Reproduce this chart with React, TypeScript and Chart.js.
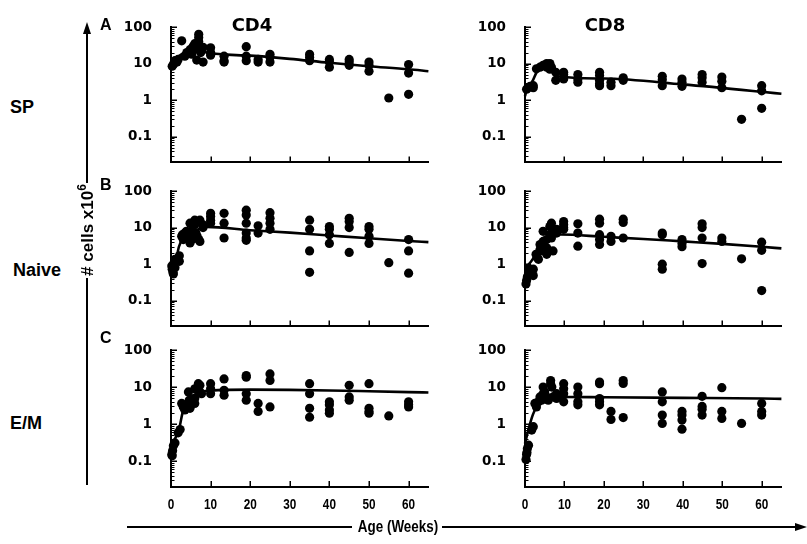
import { useEffect, useRef } from "react";
import { Chart, registerables } from "chart.js";

Chart.register(...registerables);

// ---------- axis ticks ----------
const weekTicks = [0, 10, 20, 30, 40, 50, 60];
const cellTicks = [0.1, 1, 10, 100];
const minorCellTicks = [
  0.02, 0.03, 0.04, 0.05, 0.06, 0.07, 0.08, 0.09,
  0.2, 0.3, 0.4, 0.5, 0.6, 0.7, 0.8, 0.9,
  2, 3, 4, 5, 6, 7, 8, 9,
  20, 30, 40, 50, 60, 70, 80, 90,
];

// ---------- A: SP ----------
const spCd4Weeks = [0.3, 0.6, 1.0, 1.5, 1.8, 2.7, 3.5, 4, 4.8, 5.2, 5.6, 6, 6.4, 7, 7, 7, 6.5, 7.5, 8.1, 8.1, 10, 10, 10, 13.4, 13.4, 13.4, 19, 19, 19, 22, 22, 25, 25, 25, 35, 35, 35, 40, 40, 40, 45, 45, 45, 50, 50, 50, 55, 60, 60, 60];
const spCd4Cells = [8.5, 9.5, 12, 11, 13, 42, 16, 20, 24, 18, 30, 35, 25, 63, 52, 40, 12.5, 20, 11, 28, 27, 20, 17, 16, 12, 11, 29, 16, 12, 13, 11, 18, 15, 11, 18, 15, 12, 13, 11, 8, 13, 11, 9, 11, 9, 6.2, 1.15, 9.4, 5.5, 1.45];
const spCd4FitWeeks = [0, 0.5, 1, 2, 3, 4, 5, 6, 7, 8, 9, 20, 30, 40, 50, 60, 65];
const spCd4Fit = [7, 11, 13, 16, 19, 22, 25, 28, 30, 22, 20, 16.5, 13.5, 10.5, 8.5, 7, 6.2];

const spCd8Weeks = [0.4, 0.8, 1.3, 2.1, 2.1, 2.9, 3.8, 4.6, 5.5, 5.5, 6.3, 6.3, 6.7, 7.8, 7.8, 9.8, 9.8, 9.8, 13.4, 13.4, 13.4, 18.9, 18.9, 18.9, 18.9, 18.9, 21.8, 21.8, 24.9, 24.9, 34.8, 34.8, 34.8, 39.8, 39.8, 39.8, 44.9, 44.9, 44.9, 49.9, 49.9, 49.9, 54.9, 60, 60, 60];
const spCd8Cells = [2.0, 2.2, 2.4, 2.5, 2.2, 7.2, 8, 9, 10, 8, 10, 7, 8, 5.8, 3.5, 5.8, 5, 3.8, 5, 3.8, 3.1, 5.8, 4.7, 3.5, 2.8, 2.5, 3.1, 2.5, 4.1, 3.5, 4.5, 3.6, 2.5, 3.8, 3.1, 2.4, 5, 4.1, 3.1, 4.3, 3.3, 2.2, 0.3, 2.5, 1.8, 0.6];
const spCd8FitWeeks = [0, 0.5, 1, 2, 3, 4, 5, 6, 7, 8, 20, 40, 60, 65];
const spCd8Fit = [1.3, 2, 2.4, 3.5, 6, 8, 9, 9, 6, 4.5, 3.9, 2.7, 1.7, 1.5];

// ---------- B: Naive ----------
const naiveCd4Weeks = [0.2, 0.3, 0.5, 0.6, 0.8, 1.0, 1.0, 2.1, 2.1, 2.7, 2.9, 3.1, 3.5, 3.9, 4.4, 4.8, 4.8, 5.0, 5.3, 6.0, 6.0, 6.3, 6.6, 7.0, 7.3, 7.3, 8.1, 8.1, 10, 10, 10, 10, 13.4, 13.4, 13.4, 19, 19, 19, 19, 19, 19, 22, 22, 25, 25, 25, 25, 35, 35, 35, 35, 40, 40, 40, 40, 45, 45, 45, 45, 50, 50, 50, 50, 55, 60, 60, 60];
const naiveCd4Cells = [0.9, 0.73, 0.6, 0.54, 1.1, 0.8, 1.36, 1.7, 1.2, 5.8, 6.4, 4.7, 7.1, 7.9, 5.8, 13.2, 3.8, 7.9, 4.7, 16, 11.9, 7.1, 5.8, 4.7, 4.2, 16, 11.9, 10, 24.5, 20, 16, 13.2, 24.5, 13.2, 5.2, 30, 22, 13.2, 7.1, 5.2, 4.5, 11.2, 7.1, 25.5, 18, 13.2, 9, 16, 9, 2.3, 0.6, 10.7, 9, 6.4, 3.7, 18, 14.6, 10, 2.1, 10.7, 9, 5.8, 3.7, 1.1, 4.7, 2.3, 0.57];
const naiveCd4FitWeeks = [0, 1, 2, 3, 5, 7, 9, 20, 30, 40, 50, 60, 65];
const naiveCd4Fit = [0.5, 0.9, 3, 5, 7, 9, 10.5, 8.5, 7.3, 6.1, 5.1, 4.3, 4];

const naiveCd8Weeks = [0.25, 0.4, 0.8, 1.0, 1.3, 0.6, 2.1, 2.1, 2.8, 3.1, 3.4, 3.8, 3.8, 4.0, 4.6, 4.6, 4.6, 5.5, 5.5, 5.5, 6.3, 6.3, 6.7, 6.7, 6.7, 7.1, 7.1, 8.0, 8.0, 9.8, 9.8, 9.8, 9.8, 13.4, 13.4, 13.4, 18.9, 18.9, 18.9, 18.9, 18.9, 21.8, 21.8, 24.9, 24.9, 24.9, 34.8, 34.8, 34.8, 34.8, 39.8, 39.8, 39.8, 44.9, 44.9, 44.9, 44.9, 49.9, 49.9, 54.9, 60, 60, 60];
const naiveCd8Cells = [0.29, 0.36, 0.49, 0.6, 0.73, 0.45, 0.49, 0.73, 1.86, 1.5, 1.36, 3.45, 2.5, 2.3, 7.9, 4.2, 3.3, 4.7, 2.8, 1.86, 6.4, 10.7, 13.2, 10, 5.2, 2.3, 7.1, 9, 7.1, 14.6, 11.9, 10, 9, 12.7, 7.1, 3.1, 17, 13.2, 6.4, 4.7, 3.45, 5.8, 4.2, 17, 13.8, 5.2, 7.1, 6.4, 1.0, 0.73, 4.7, 3.7, 3.0, 12.7, 10, 5.2, 1.04, 5.2, 4.2, 1.4, 4, 2.4, 0.19];
const naiveCd8FitWeeks = [0, 1, 2, 3, 4, 5, 7, 9, 20, 30, 40, 50, 60, 65];
const naiveCd8Fit = [0.8, 1, 1.4, 2.2, 3.5, 4.8, 6, 6.5, 5.6, 4.9, 4.2, 3.6, 3, 2.7];

// ---------- C: E/M ----------
const emCd4Weeks = [0.2, 0.4, 0.6, 1.0, 0.3, 1.8, 2.3, 2.7, 3.1, 3.5, 3.9, 4.4, 4.6, 4.8, 6, 6, 6, 6.9, 7.3, 7.3, 7.7, 10, 10, 10, 13.4, 13.4, 13.4, 19, 19, 19, 19, 22, 22, 25, 25, 25, 35, 35, 35, 35, 40, 40, 40, 40, 45, 45, 45, 50, 50, 50, 50, 55, 60, 60, 60];
const emCd4Cells = [0.15, 0.19, 0.26, 0.31, 0.14, 0.58, 0.71, 3.6, 2.9, 2.4, 3.3, 7.4, 4.4, 2.66, 4.9, 3.6, 9, 12.3, 11.1, 7.4, 6.6, 12.3, 9, 6.6, 16.6, 8.2, 6, 20.4, 18.4, 6.6, 4.4, 3.6, 2.2, 22.6, 15, 2.9, 12.3, 6.6, 2.66, 1.53, 4, 3.3, 2.4, 1.96, 11.1, 5.4, 4.4, 12.3, 2.66, 2.2, 1.96, 1.66, 4, 3.3, 2.9];
const emCd4FitWeeks = [0, 1, 2, 3, 4, 5, 7, 10, 20, 30, 40, 50, 60, 65];
const emCd4Fit = [0.25, 0.4, 0.7, 2.2, 3.8, 5.3, 7, 8, 8.5, 8.4, 8.1, 7.7, 7.3, 7.1];

const emCd8Weeks = [0.25, 0.4, 0.6, 0.9, 0.5, 1.7, 2.1, 2.5, 2.9, 3.4, 3.8, 4.2, 4.6, 4.6, 5.0, 5.5, 5.9, 6.5, 6.5, 6.8, 7.1, 8, 8, 9.8, 9.8, 9.8, 9.8, 13.4, 13.4, 13.4, 13.4, 18.9, 18.9, 18.9, 18.9, 18.9, 21.8, 21.8, 24.9, 24.9, 24.9, 34.8, 34.8, 34.8, 34.8, 39.8, 39.8, 39.8, 39.8, 44.9, 44.9, 44.9, 44.9, 49.9, 49.9, 49.9, 54.9, 60, 60, 60];
const emCd8Cells = [0.11, 0.15, 0.22, 0.27, 0.17, 0.69, 0.85, 3.6, 2.9, 4, 5.4, 4.4, 6.6, 10, 7.4, 5.4, 4.4, 15, 12.3, 10, 5.4, 4.9, 6.6, 12.3, 9, 6.6, 4, 10, 6.6, 4, 3.3, 13.6, 12.3, 4.9, 4, 3.3, 2.2, 1.33, 15, 12.5, 1.5, 7.4, 4, 1.75, 1.04, 2.2, 1.75, 1.28, 0.73, 5.6, 3.0, 2.5, 1.75, 9.6, 2.2, 1.42, 1.04, 3.6, 2.2, 1.75];
const emCd8FitWeeks = [0, 1, 2, 3, 5, 7, 10, 20, 40, 60, 65];
const emCd8Fit = [0.3, 0.8, 1.8, 3, 4.5, 5.3, 5.4, 5.3, 5.1, 4.9, 4.8];

// ---------- drawing helpers ----------
const innerTicks = {
  id: "innerTicks",
  afterDraw(chart: any, _args: any, opts: any) {
    const { ctx, chartArea, scales } = chart;
    const x = scales.x;
    const y = scales.y;
    ctx.save();
    ctx.strokeStyle = "#000";
    ctx.lineWidth = 1.5;
    for (const w of weekTicks) {
      if (w === 0) continue;
      const px = Math.round(x.getPixelForValue(w)) + 0.25;
      ctx.beginPath();
      ctx.moveTo(px, chartArea.bottom);
      ctx.lineTo(px, chartArea.bottom - 6);
      ctx.stroke();
    }
    for (const v of cellTicks) {
      const py = Math.round(y.getPixelForValue(v)) + 0.25;
      ctx.beginPath();
      ctx.moveTo(chartArea.left, py);
      ctx.lineTo(chartArea.left + 6, py);
      ctx.stroke();
    }
    ctx.lineWidth = 1;
    for (const v of minorCellTicks) {
      const py = Math.round(y.getPixelForValue(v)) + 0.5;
      ctx.beginPath();
      ctx.moveTo(chartArea.left, py);
      ctx.lineTo(chartArea.left + 3.5, py);
      ctx.stroke();
    }
    // condensed week labels (bottom row only)
    if (opts && opts.showLabels) {
      ctx.fillStyle = "#000";
      ctx.font = "bold 14px 'Liberation Sans', Arial, sans-serif";
      ctx.textAlign = "center";
      ctx.textBaseline = "middle";
      for (const w of weekTicks) {
        const px = x.getPixelForValue(w);
        ctx.save();
        ctx.translate(px, chartArea.bottom + 18);
        ctx.scale(0.84, 1);
        ctx.fillText(String(w), 0, 0);
        ctx.restore();
      }
    }
    ctx.restore();
  },
};

type PanelProps = {
  weeks: number[];
  cells: number[];
  fitWeeks: number[];
  fit: number[];
  showX: boolean;
  left: number;
  top: number;
  plotW: number;
  plotH: number;
};

const Y_W = 60;
const PAD_TOP = 12;
const PAD_RIGHT = 3;

function Panel({ weeks, cells, fitWeeks, fit, showX, left, top, plotW, plotH }: PanelProps) {
  const ref = useRef<HTMLCanvasElement | null>(null);
  const bottomSpace = showX ? 32 : 4;
  const w = Y_W + plotW + PAD_RIGHT;
  const h = PAD_TOP + plotH + bottomSpace;

  useEffect(() => {
    if (!ref.current) return;
    const chart = new Chart(ref.current, {
      type: "scatter",
      data: {
        datasets: [
          {
            type: "line",
            data: fitWeeks.map((wk, i) => ({ x: wk, y: fit[i] })),
            borderColor: "#000",
            borderWidth: 2.6,
            pointRadius: 0,
            cubicInterpolationMode: "monotone",
            fill: false,
            clip: false,
          } as any,
          {
            type: "scatter",
            data: weeks.map((wk, i) => ({ x: wk, y: cells[i] })),
            backgroundColor: "#000",
            borderColor: "#000",
            borderWidth: 0,
            pointRadius: 4.6,
            pointHoverRadius: 4.6,
            clip: false,
          } as any,
        ],
      },
      options: {
        animation: false,
        responsive: false,
        maintainAspectRatio: false,
        events: [],
        layout: { padding: { top: PAD_TOP, right: PAD_RIGHT, bottom: bottomSpace, left: 0 } },
        plugins: {
          legend: { display: false },
          tooltip: { enabled: false },
          title: { display: false },
          innerTicks: { showLabels: showX },
        },
        scales: {
          x: {
            type: "linear",
            position: "bottom",
            min: 0,
            max: 65,
            afterBuildTicks: (s: any) => {
              s.ticks = weekTicks.map((v) => ({ value: v }));
            },
            afterFit: (s: any) => {
              s.height = 0;
              s.paddingLeft = 0;
              s.paddingRight = 0;
            },
            grid: { display: false },
            border: { display: true, color: "#000", width: 2 },
            ticks: { display: false },
          },
          y: {
            type: "logarithmic",
            position: "left",
            min: 0.02,
            max: 100,
            afterBuildTicks: (s: any) => {
              s.ticks = cellTicks.map((v) => ({ value: v }));
            },
            afterFit: (s: any) => {
              s.width = Y_W;
              s.paddingTop = 0;
              s.paddingBottom = 0;
            },
            grid: { display: false },
            border: { display: true, color: "#000", width: 2 },
            ticks: {
              color: "#000",
              padding: 11,
              autoSkip: false,
              callback: (v: any) => String(v),
              font: { family: "'DejaVu Sans', sans-serif", size: 13.5, weight: "bold" },
            },
          },
        },
      },
      plugins: [innerTicks],
    } as any);
    return () => chart.destroy();
  }, []);

  return (
    <canvas
      ref={ref}
      width={w}
      height={h}
      style={{ position: "absolute", left: left - Y_W, top: top - PAD_TOP, width: w, height: h }}
    />
  );
}

const bold = (family: string, size: number): any => ({
  position: "absolute",
  fontFamily: family,
  fontWeight: "bold",
  fontSize: size,
  lineHeight: `${size}px`,
  whiteSpace: "nowrap",
  color: "#000",
});

const LIB = "'Liberation Sans', Arial, sans-serif";
const DJV = "'DejaVu Sans', sans-serif";

export default function App() {
  const colL = [171, 525];
  const colW = [259, 258];
  const rowT = [27, 191, 350];
  const rowH = [136, 136, 137];

  const panels = [
    [spCd4Weeks, spCd4Cells, spCd4FitWeeks, spCd4Fit, spCd8Weeks, spCd8Cells, spCd8FitWeeks, spCd8Fit],
    [naiveCd4Weeks, naiveCd4Cells, naiveCd4FitWeeks, naiveCd4Fit, naiveCd8Weeks, naiveCd8Cells, naiveCd8FitWeeks, naiveCd8Fit],
    [emCd4Weeks, emCd4Cells, emCd4FitWeeks, emCd4Fit, emCd8Weeks, emCd8Cells, emCd8FitWeeks, emCd8Fit],
  ];

  return (
    <div style={{ position: "absolute", left: 0, top: 0, width: 807, height: 544, background: "#fff", overflow: "hidden" }}>
      {panels.map((p, r) =>
        [0, 1].map((c) => (
          <Panel
            key={`${r}-${c}`}
            weeks={p[c * 4] as number[]}
            cells={p[c * 4 + 1] as number[]}
            fitWeeks={p[c * 4 + 2] as number[]}
            fit={p[c * 4 + 3] as number[]}
            showX={r === 2}
            left={colL[c]}
            top={rowT[r]}
            plotW={colW[c]}
            plotH={rowH[r]}
          />
        ))
      )}

      {/* column titles */}
      <div style={{ ...bold(DJV, 18), left: 252, top: 16, transform: "translateX(-50%)" }}>CD4</div>
      <div style={{ ...bold(DJV, 18), left: 605, top: 16, transform: "translateX(-50%)" }}>CD8</div>

      {/* panel letters */}
      <div style={{ ...bold(LIB, 16), left: 100, top: 17 }}>A</div>
      <div style={{ ...bold(LIB, 16), left: 100, top: 177 }}>B</div>
      <div style={{ ...bold(LIB, 16), left: 100, top: 330 }}>C</div>

      {/* row labels */}
      <div style={{ ...bold(LIB, 18), left: 10, top: 98 }}>SP</div>
      <div style={{ ...bold(LIB, 18), left: 13, top: 261 }}>Naive</div>
      <div style={{ ...bold(LIB, 18), left: 10, top: 414 }}>E/M</div>

      {/* y axis label */}
      <div
        style={{
          ...bold(LIB, 17),
          left: 88,
          top: 230,
          transform: "translate(-50%, -50%) rotate(-90deg)",
        }}
      >
        # cells x10<span style={{ fontSize: 12, position: "relative", top: -7 }}>6</span>
      </div>

      {/* x axis label */}
      <div
        style={{
          ...bold(LIB, 17),
          left: 398,
          top: 518,
          transform: "translateX(-50%) scaleX(0.79)",
          transformOrigin: "center",
        }}
      >
        Age (Weeks)
      </div>

      <svg width={807} height={544} style={{ position: "absolute", left: 0, top: 0 }}>
        <line x1={87} y1={485} x2={87} y2={278} stroke="#000" strokeWidth={2} />
        <line x1={87} y1={183} x2={87} y2={32} stroke="#000" strokeWidth={2} />
        <polygon points="87,22 83,34 91,34" fill="#000" />
        <line x1={127} y1={527} x2={352} y2={527} stroke="#000" strokeWidth={2} />
        <line x1={442} y1={527} x2={798} y2={527} stroke="#000" strokeWidth={2} />
        <polygon points="807,527 795,523 795,531" fill="#000" />
      </svg>
    </div>
  );
}
